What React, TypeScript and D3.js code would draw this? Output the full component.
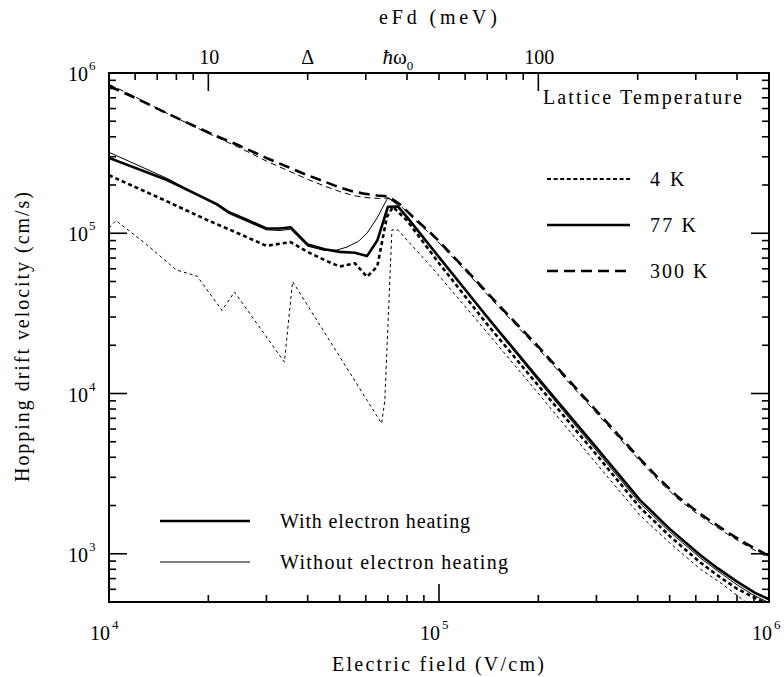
import React from "react";
import * as d3 from "d3";

// Hopping drift velocity versus electric field for three lattice temperatures,
// with and without electron heating. Points are [field (V/cm), velocity (cm/s)].
const heat300K: [number, number][] = [
  [1e4, 8.3e5], [1.2e4, 7.0e5], [1.5e4, 5.6e5], [2e4, 4.25e5], [2.5e4, 3.5e5],
  [3e4, 2.95e5], [3.5e4, 2.58e5], [4e4, 2.3e5], [4.5e4, 2.1e5], [5e4, 1.93e5],
  [5.5e4, 1.82e5], [6e4, 1.76e5], [6.5e4, 1.72e5], [7.0e4, 1.7e5], [7.6e4, 1.52e5],
  [8.5e4, 1.22e5], [9.66e4, 9.6e4], [1.2e5, 6.0e4], [1.5e5, 3.65e4], [2e5, 1.96e4],
  [3e5, 7.8e3], [4e5, 4.05e3], [4.6e5, 3.0e3], [5.25e5, 2.3e3], [5.9e5, 1.91e3],
  [6.6e5, 1.62e3], [7.5e5, 1.36e3], [8.5e5, 1.16e3], [1e6, 9.7e2],
];
const noHeat300K: [number, number][] = [
  [1e4, 8.5e5], [1.2e4, 7.1e5], [1.5e4, 5.6e5], [2e4, 4.2e5], [2.5e4, 3.4e5],
  [3e4, 2.82e5], [3.5e4, 2.45e5], [4e4, 2.17e5], [4.5e4, 1.97e5], [5e4, 1.82e5],
  [5.5e4, 1.72e5], [6e4, 1.67e5], [6.5e4, 1.65e5], [7.0e4, 1.66e5], [7.6e4, 1.5e5],
  [8.5e4, 1.2e5], [9.66e4, 9.4e4], [1.2e5, 5.85e4], [1.5e5, 3.55e4], [2e5, 1.9e4],
  [3e5, 7.55e3], [4e5, 3.93e3], [4.6e5, 2.9e3], [5.25e5, 2.23e3], [5.9e5, 1.85e3],
  [6.6e5, 1.57e3], [7.5e5, 1.32e3], [8.5e5, 1.13e3], [1e6, 9.4e2],
];
const heat77K: [number, number][] = [
  [1e4, 2.95e5], [1.5e4, 2.15e5], [2.12e4, 1.52e5], [2.3e4, 1.36e5], [2.6e4, 1.22e5],
  [3e4, 1.07e5], [3.3e4, 1.07e5], [3.55e4, 1.09e5], [4e4, 8.5e4], [4.5e4, 7.95e4],
  [5e4, 7.65e4], [5.56e4, 7.55e4], [6.05e4, 7.2e4], [6.5e4, 9.0e4], [7.0e4, 1.46e5],
  [7.5e4, 1.47e5], [8e4, 1.26e5], [1e5, 7.1e4], [1.4e5, 3.0e4], [2e5, 1.24e4],
  [3e5, 4.6e3], [4.06e5, 2.17e3], [5e5, 1.43e3], [6.2e5, 9.8e2], [7e5, 8.1e2],
  [8e5, 6.7e2], [9.07e5, 5.7e2], [1e6, 5.2e2],
];
const noHeat77K: [number, number][] = [
  [1e4, 3.2e5], [1.5e4, 2.2e5], [2.12e4, 1.5e5], [2.3e4, 1.33e5], [3e4, 1.05e5],
  [3.3e4, 1.04e5], [3.55e4, 1.06e5], [4e4, 8.3e4], [4.5e4, 7.8e4], [4.9e4, 7.85e4],
  [5.26e4, 8.2e4], [5.7e4, 8.9e4], [6.05e4, 1.0e5], [6.5e4, 1.25e5], [7.0e4, 1.67e5],
  [7.5e4, 1.5e5], [8e4, 1.27e5], [1e5, 7.1e4], [1.4e5, 2.95e4], [2e5, 1.2e4],
  [3e5, 4.4e3], [4.06e5, 2.07e3], [5e5, 1.37e3], [6.2e5, 9.4e2], [7e5, 7.8e2],
  [8e5, 6.4e2], [9e5, 5.5e2], [1e6, 4.95e2],
];
const heat4K: [number, number][] = [
  [1e4, 2.3e5], [1.5e4, 1.58e5], [2e4, 1.2e5], [2.33e4, 1.05e5], [3e4, 8.35e4],
  [3.55e4, 8.8e4], [4e4, 7.65e4], [4.5e4, 6.8e4], [5e4, 6.2e4], [5.56e4, 6.5e4],
  [6.05e4, 5.35e4], [6.5e4, 6.2e4], [6.95e4, 1.26e5], [7.25e4, 1.46e5], [8e4, 1.2e5],
  [1e5, 6.5e4], [1.4e5, 2.7e4], [2e5, 1.12e4], [3e5, 4.15e3], [4.06e5, 1.95e3],
  [5e5, 1.29e3], [6.2e5, 8.8e2], [7e5, 7.3e2], [8e5, 6.05e2], [9.6e5, 5.0e2],
];
const noHeat4K: [number, number][] = [
  [1e4, 1.08e5], [1.05e4, 1.2e5], [1.3e4, 8.5e4], [1.6e4, 5.9e4], [1.85e4, 5.4e4],
  [2.2e4, 3.3e4], [2.4e4, 4.3e4], [3.4e4, 1.57e4], [3.6e4, 5.0e4], [6.7e4, 6.5e3],
  [6.85e4, 9.0e3], [7.2e4, 1.05e5], [7.5e4, 1.05e5], [9.4e4, 6.3e4], [1.285e5, 2.96e4],
  [2e5, 1.0e4], [3e5, 3.65e3], [4.06e5, 1.74e3], [5e5, 1.17e3], [6.2e5, 8.0e2],
  [7.2e5, 6.5e2], [8.5e5, 5.0e2],
];

// Axis ranges and ticks
const fieldDomain: [number, number] = [1e4, 1e6];
const velocityDomain: [number, number] = [500, 1e6];
const energyDomain: [number, number] = [5, 500]; // eFd (meV), d = 5 nm
const fieldMajor = [4, 5, 6];
const velocityMajor = [3, 4, 5, 6];
const energyMajor = [10, 100];
const energyMinor = [6, 7, 8, 9, 20, 30, 40, 50, 60, 70, 80, 90, 200, 300, 400];
const temperatureLabels = ["4 K", "77 K", "300 K"];
const heatingLabels = ["With electron heating", "Without electron heating"];

const FONT = "Liberation Serif";

const W = 784;
const H = 677;
const left = 109;
const right = 769;
const top = 73;
const bottom = 602;

// serif text spread out to a fixed rendered width
function Label(props: {
  x: number;
  y: number;
  w?: number;
  size?: number;
  anchor?: "start" | "middle" | "end";
  children: React.ReactNode;
}) {
  return (
    <text
      x={props.x}
      y={props.y}
      fontSize={props.size ?? 20}
      textAnchor={props.anchor ?? "start"}
      textLength={props.w}
      lengthAdjust={props.w ? "spacing" : undefined}
      style={{ fontFamily: FONT }}
    >
      {props.children}
    </text>
  );
}

export default function App() {
  const xs = d3.scaleLog().domain(fieldDomain).range([left, right]);
  const ys = d3.scaleLog().domain(velocityDomain).range([bottom, top]);
  const xe = d3.scaleLog().domain(energyDomain).range([left, right]);
  const line = d3
    .line<[number, number]>()
    .x((d) => xs(d[0]))
    .y((d) => ys(d[1]));

  const xMinor: number[] = [];
  for (let e = 4; e < 6; e++) for (let m = 2; m <= 9; m++) xMinor.push(m * 10 ** e);
  const yMinor: number[] = [];
  for (let e = 2; e < 6; e++)
    for (let m = 2; m <= 9; m++) {
      const v = m * 10 ** e;
      if (v >= velocityDomain[0]) yMinor.push(v);
    }

  const major = 18;
  const minor = 7;
  const tickStroke = { stroke: "#000", strokeWidth: 1.6 };

  const series = [
    { data: heat300K, w: 2.6, dash: "11 6" },
    { data: noHeat300K, w: 1, dash: "6 4" },
    { data: heat77K, w: 2.6, dash: "none" },
    { data: noHeat77K, w: 1, dash: "none" },
    { data: heat4K, w: 2.6, dash: "4 3" },
    { data: noHeat4K, w: 1, dash: "3 3" },
  ];

  const legendStyles = [
    { w: 2, dash: "4 2.6" },
    { w: 2.6, dash: "none" },
    { w: 2.6, dash: "11 6" },
  ];

  return (
    <svg
      width={W}
      height={H}
      style={{ display: "block", position: "absolute", left: 0, top: 0, fontFamily: FONT }}
    >
      <rect x={0} y={0} width={W} height={H} fill="#fff" />
      <defs>
        <clipPath id="plot">
          <rect x={left} y={top} width={right - left} height={bottom - top} />
        </clipPath>
      </defs>

      {/* curves */}
      <g clipPath="url(#plot)" fill="none" stroke="#000">
        {series.map((s, i) => (
          <path
            key={i}
            d={line(s.data) || ""}
            strokeWidth={s.w}
            strokeDasharray={s.dash}
            strokeLinejoin="round"
          />
        ))}
      </g>

      {/* bottom axis ticks */}
      {fieldMajor.map((e) => {
        const x = xs(10 ** e);
        return (
          <g key={"bx" + e}>
            <line x1={x} x2={x} y1={bottom} y2={bottom - major} {...tickStroke} />
            <Label x={x + (e === 6 ? 3 : 1)} y={640} anchor="end">
              10
            </Label>
            <Label x={x + 2 + (e === 6 ? 3 : 1)} y={629} size={13}>
              {String(e)}
            </Label>
          </g>
        );
      })}
      {xMinor.map((v) => (
        <line key={"bm" + v} x1={xs(v)} x2={xs(v)} y1={bottom} y2={bottom - minor} {...tickStroke} />
      ))}

      {/* top axis: eFd */}
      {energyMajor.map((v) => (
        <g key={"te" + v}>
          <line x1={xe(v)} x2={xe(v)} y1={top} y2={top + major} {...tickStroke} />
          <Label x={xe(v) + 1} y={64} anchor="middle">
            {String(v)}
          </Label>
        </g>
      ))}
      {energyMinor.map((v) => (
        <line key={"tm" + v} x1={xe(v)} x2={xe(v)} y1={top} y2={top + minor} {...tickStroke} />
      ))}
      <text x={xe(20)} y={64} fontSize={20} textAnchor="middle" style={{ fontFamily: FONT }}>
        Δ
      </text>
      <text x={xe(36) + 6} y={64} fontSize={21} textAnchor="middle" style={{ fontFamily: FONT }}>
        <tspan fontStyle="italic">ħ</tspan>
        <tspan>ω</tspan>
        <tspan dy={6} fontSize={13}>
          0
        </tspan>
      </text>
      <Label x={438} y={24} w={118} anchor="middle">
        eFd  (meV)
      </Label>

      {/* left and right ticks */}
      {velocityMajor.map((e) => {
        const y = ys(10 ** e);
        return (
          <g key={"ly" + e}>
            <line x1={left} x2={left + major} y1={y} y2={y} {...tickStroke} />
            <line x1={right} x2={right - major} y1={y} y2={y} {...tickStroke} />
            <Label x={88} y={y + 8} anchor="end">
              10
            </Label>
            <Label x={89} y={y - 3} size={13}>
              {String(e)}
            </Label>
          </g>
        );
      })}
      {yMinor.map((v) => (
        <g key={"lm" + v}>
          <line x1={left} x2={left + minor} y1={ys(v)} y2={ys(v)} {...tickStroke} />
          <line x1={right} x2={right - minor} y1={ys(v)} y2={ys(v)} {...tickStroke} />
        </g>
      ))}

      {/* frame */}
      <rect
        x={left}
        y={top}
        width={right - left}
        height={bottom - top}
        fill="none"
        stroke="#000"
        strokeWidth={2}
      />

      {/* axis titles */}
      <Label x={438} y={671} w={212} anchor="middle">
        Electric field  (V/cm)
      </Label>
      <g transform="translate(29, 337) rotate(-90)">
        <Label x={0} y={0} w={290} anchor="middle">
          Hopping drift velocity  (cm/s)
        </Label>
      </g>

      {/* temperature legend */}
      <Label x={543} y={104} w={199}>
        Lattice Temperature
      </Label>
      {temperatureLabels.map((t, i) => {
        const y = 179 + i * 46;
        const s = legendStyles[i];
        return (
          <g key={t}>
            <line x1={547} x2={630} y1={y} y2={y} stroke="#000" strokeWidth={s.w} strokeDasharray={s.dash} />
            <Label x={650} y={y + 7} w={t.length * 11.5}>
              {t}
            </Label>
          </g>
        );
      })}

      {/* heating legend */}
      {heatingLabels.map((t, i) => {
        const y = 521 + i * 41;
        return (
          <g key={t}>
            <line x1={160} x2={250} y1={y} y2={y} stroke="#000" strokeWidth={i === 0 ? 2.6 : 1} />
            <Label x={280} y={y + 7} w={i === 0 ? 190 : 228}>
              {t}
            </Label>
          </g>
        );
      })}
    </svg>
  );
}
